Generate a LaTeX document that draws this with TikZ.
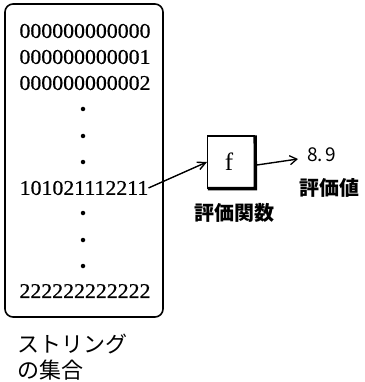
\documentclass[tikz,border=0pt]{standalone}
\usepackage{fontspec}
\setmainfont{Liberation Serif}
\newfontfamily\digitfont[FakeStretch=1.04,FakeBold=0.6]{Liberation Serif}
\newfontfamily\jpfont{Noto Sans CJK JP}
\usetikzlibrary{arrows.meta}
\begin{document}
\begin{tikzpicture}[x=1pt,y=-1pt,
  digits/.style={font=\digitfont\fontsize{21}{21}\selectfont, inner sep=0pt, anchor=center},
  jp/.style={font=\jpfont\fontsize{22}{22}\selectfont, inner sep=0pt},
  jpb/.style={font=\jpfont\bfseries\fontsize{20}{20}\selectfont, inner sep=0pt},
  dotmark/.style={circle, fill=black, inner sep=0pt, minimum size=4.5pt},
  conn/.style={line width=1.4pt}]
\useasboundingbox (0,0) rectangle (364,382);
% set of strings
\node[draw, line width=1.6pt, rounded corners=8pt, minimum width=158pt, minimum height=313pt] (set) at (84,160.5) {};
\node[digits] (s0) at (85,31) {000000000000};
\node[digits] (s1) at (85,57) {000000000001};
\node[digits] (s2) at (85,83) {000000000002};
\node[dotmark] (d1) at (83,109) {};
\node[dotmark] (d2) at (83,136) {};
\node[dotmark] (d3) at (83,162) {};
\node[digits] (sx) at (84,188) {101021112211};
\node[dotmark] (d4) at (83,213) {};
\node[dotmark] (d5) at (83,240) {};
\node[dotmark] (d6) at (83,266) {};
\node[digits] (sl) at (85,291) {222222222222};
\node[jp, anchor=west] (lab1) at (17,344) {ストリング};
\node[jp, anchor=west] (lab2) at (17,370) {の集合};
% evaluation function
\node[draw, line width=1.3pt, minimum width=47pt, minimum height=52pt, inner sep=0pt] (f) at (231,162) {};
\draw[line width=3.4pt] ([xshift=1pt]f.south west) -- ([xshift=0.3pt]f.south east) -- ([yshift=0pt]f.north east);
\node[inner sep=0pt, font=\fontsize{25}{25}\selectfont] (fl) at (229,162) {f};
\node[jpb] (flab) at (234,213) {評価関数};
\coordinate (fin) at (207,162);
\draw[conn, -{Straight Barb[length=8pt, width=8pt, line width=1.4pt]}] (sx.east) -- (fin);
% output value
\node[jp, anchor=west, font=\jpfont\fontsize{19}{19}\selectfont] (val) at (307,155) {8.\hspace{2pt}9};
\node[jpb] (vlab) at (329.5,187.5) {評価値};
\coordinate (vout) at (298,159);
\draw[conn, -{Straight Barb[length=7pt, width=9pt, line width=1.3pt]}] ([xshift=1.7pt,yshift=-3pt]f.east) -- (vout);
\end{tikzpicture}
\end{document}
